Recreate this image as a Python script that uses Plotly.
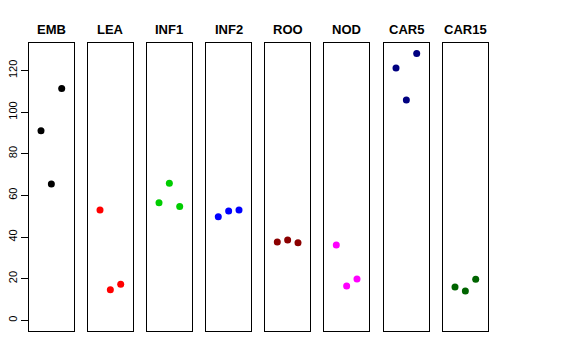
import plotly.graph_objects as go

tissues = ["EMB", "LEA", "INF1", "INF2", "ROO", "NOD", "CAR5", "CAR15"]
replicate = [1, 2, 3]
emb = [91.0, 65.5, 111.3]
lea = [53.0, 14.7, 17.3]
inf1 = [56.5, 65.8, 54.7]
inf2 = [49.8, 52.5, 53.0]
roo = [37.6, 38.6, 37.3]
nod = [36.2, 16.5, 19.9]
car5 = [121.2, 105.8, 128.2]
car15 = [16.0, 14.1, 19.7]
values = [emb, lea, inf1, inf2, roo, nod, car5, car15]
colors = ["#000000", "#FF0000", "#00CD00", "#0000FF", "#8B0000", "#FF00FF", "#000080", "#006400"]
y_ticks = [0, 20, 40, 60, 80, 100, 120]

W, H = 576, 360
panel_left = [29, 88, 147, 206.3, 265.3, 324.3, 384, 443]
panel_w = 44.7
top_px, bot_px = 42.7, 331

ymax = max(max(v) for v in values)
ymin = 0
ext = (ymax - ymin) * 0.04
yrange = [ymin - ext, ymax + ext]

fig = go.Figure()
layout = dict(
    width=W, height=H,
    margin=dict(l=0, r=0, t=0, b=0, autoexpand=False),
    paper_bgcolor="white", plot_bgcolor="white",
    showlegend=False,
    font=dict(family="Liberation Sans, Arial, sans-serif", color="black"),
)
annotations = []
for i, (name, vals, col) in enumerate(zip(tissues, values, colors)):
    k = "" if i == 0 else str(i + 1)
    fig.add_trace(go.Scatter(
        x=replicate, y=vals, mode="markers",
        marker=dict(color=col, size=7, line=dict(width=0)),
        xaxis="x" + k, yaxis="y" + k,
    ))
    x0 = panel_left[i] / W
    x1 = (panel_left[i] + panel_w) / W
    layout["xaxis" + k] = dict(
        domain=[x0, x1], range=[-0.16, 4.16], showgrid=False, zeroline=False,
        showticklabels=False, ticks="", showline=True, mirror=True,
        linecolor="black", linewidth=1, anchor="y" + k, fixedrange=True,
        automargin=False,
    )
    ya = dict(
        domain=[1 - bot_px / H, 1 - top_px / H], range=yrange, showgrid=False,
        zeroline=False, showline=True, mirror=True, linecolor="black",
        linewidth=1, anchor="x" + k, fixedrange=True, automargin=False,
    )
    if i == 0:
        ya.update(tickvals=y_ticks, ticktext=[str(t) for t in y_ticks],
                  ticks="outside", ticklen=7, tickwidth=1, tickcolor="black",
                  tickangle=-90, tickfont=dict(size=11, color="black"))
    else:
        ya.update(showticklabels=False, ticks="")
    layout["yaxis" + k] = ya
    annotations.append(dict(
        text="<b>" + name + "</b>", x=(x0 + x1) / 2, y=1 - 29 / H,
        xref="paper", yref="paper", showarrow=False,
        xanchor="center", yanchor="middle",
        font=dict(size=13, color="black"),
    ))
layout["annotations"] = annotations
fig.update_layout(**layout)
fig.write_html("out.html", config={"displayModeBar": False, "staticPlot": True},
               post_script="document.body.style.margin='0';")
